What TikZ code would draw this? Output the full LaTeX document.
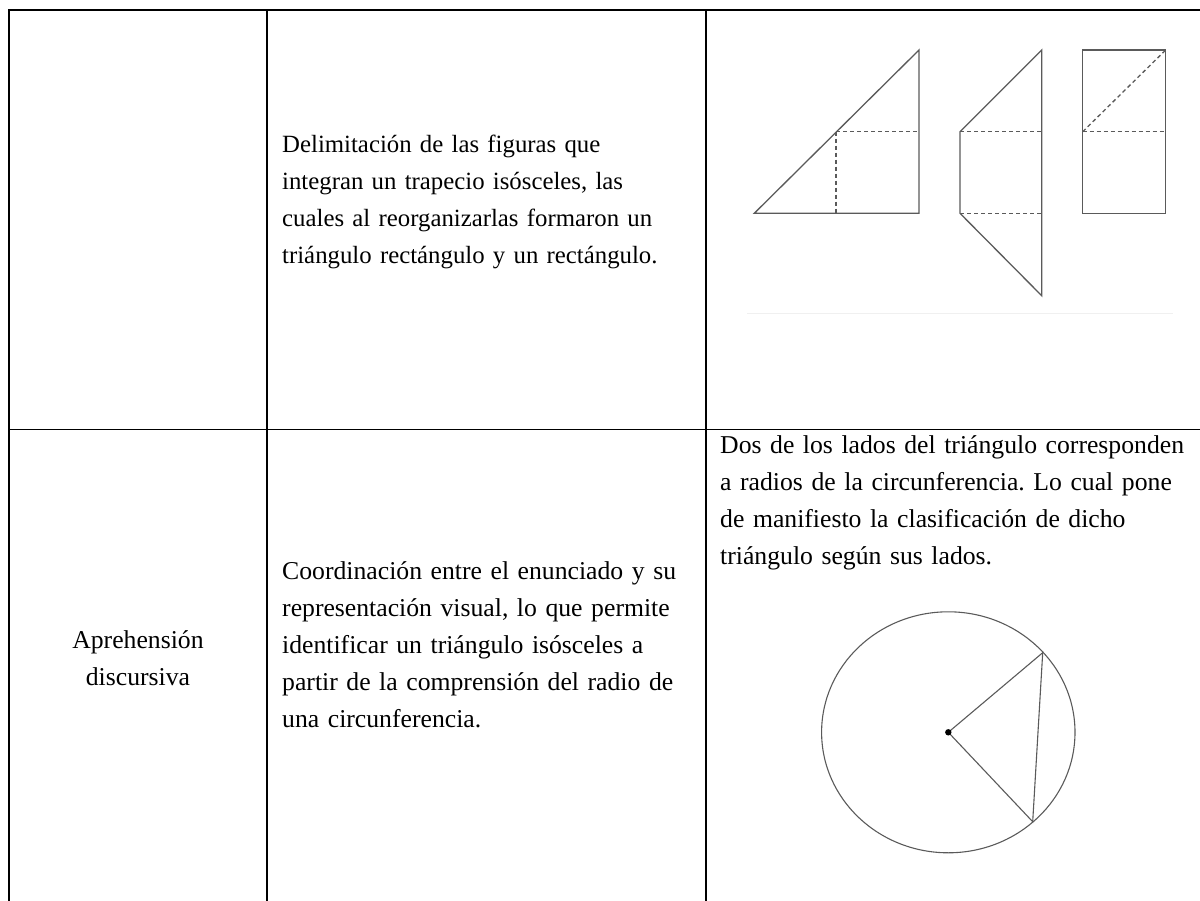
\documentclass[tikz,border=0pt]{standalone}
\usepackage{fontspec}
\setmainfont{Liberation Serif}
\usetikzlibrary{positioning, calc}
\definecolor{figgray}{RGB}{90,90,90}
\frenchspacing

\begin{document}
\begin{tikzpicture}[
    x=1pt, y=-1pt,
    rule/.style={line width=1.6pt, black},
    celltext/.style={anchor=base west, inner sep=0pt, text width=540pt, align=left,
      font=\fontsize{24.8}{37}\selectfont},
    bigtext/.style={celltext, font=\fontsize{25.7}{37}\selectfont},
    edge/.style={line width=1.3pt, draw=figgray},
    hidden/.style={line width=1.3pt, draw=figgray, dash pattern=on 4pt off 3pt}
  ]
  \useasboundingbox (0,0) rectangle (1200,901);

  % Table grid
  \draw[rule] (9,901) -- (9,10) -- (1200,10);
  \draw[rule] (9,429.5) -- (1200,429.5);
  \draw[rule] (267,10) -- (267,901);
  \draw[rule] (706,10) -- (706,901);

  % Cell texts
  \node[celltext] (delim) at (282,152.3) {Delimitación de las figuras que\\
    integran un trapecio isósceles, las\\
    cuales al reorganizarlas formaron un\\
    triángulo rectángulo y un rectángulo.};
  \node[bigtext, anchor=base, text width=240pt, align=center] (aprehension) at (138,648.3)
    {Aprehensión\\ discursiva};
  \node[bigtext] (coord) at (282,579.5) {Coordinación entre el enunciado y su\\
    representación visual, lo que permite\\
    identificar un triángulo isósceles a\\
    partir de la comprensión del radio de\\
    una circunferencia.};
  \node[bigtext] (lados) at (720,453.5) {Dos de los lados del triángulo corresponden\\
    a radios de la circunferencia. Lo cual pone\\
    de manifiesto la clasificación de dicho\\
    triángulo según sus lados.};

  % Right triangle
  \coordinate (ta) at (754.3,213.3);
  \coordinate (tb) at (919,213.3);
  \coordinate (tc) at (919,50);
  \coordinate (tm) at (836,131.7);
  \draw[edge] (ta) -- (tb) -- (tc) -- cycle;
  \draw[hidden] (tm) -- (tm -| tb);
  \draw[hidden] (tm) -- (tm |- tb);

  % Trapezoid
  \coordinate (za) at (1041.7,50);
  \coordinate (zb) at (960,131.7);
  \coordinate (zc) at (960,213.3);
  \coordinate (zd) at (1041.7,295.7);
  \draw[edge] (za) -- (zb) -- (zc) -- (zd) -- cycle;
  \draw[hidden] (zb) -- (zb -| za);
  \draw[hidden] (zc) -- (zc -| za);

  % Rectangle
  \coordinate (ra) at (1082.7,50);
  \coordinate (rb) at (1165.7,213.3);
  \coordinate (rm) at (1082.7,131.7);
  \draw[edge] (ra) rectangle (rb);
  \draw[hidden] (rm) -- (ra -| rb);
  \draw[hidden] (rm) -- (rm -| rb);
  \draw[black!6, line width=1pt] (747,313.3) -- (1173,313.3);

  % Circle with radii
  \coordinate (o) at (948.3,732.3);
  \coordinate (p) at (1042.7,652.7);
  \coordinate (q) at (1032.7,821.7);
  \draw[edge, line width=1.1pt] (o) ellipse [x radius=126.7, y radius=120.5];
  \draw[edge, line width=1.1pt] (o) -- (p) -- (q) -- cycle;
  \fill (o) circle [radius=3.2];
\end{tikzpicture}
\end{document}
